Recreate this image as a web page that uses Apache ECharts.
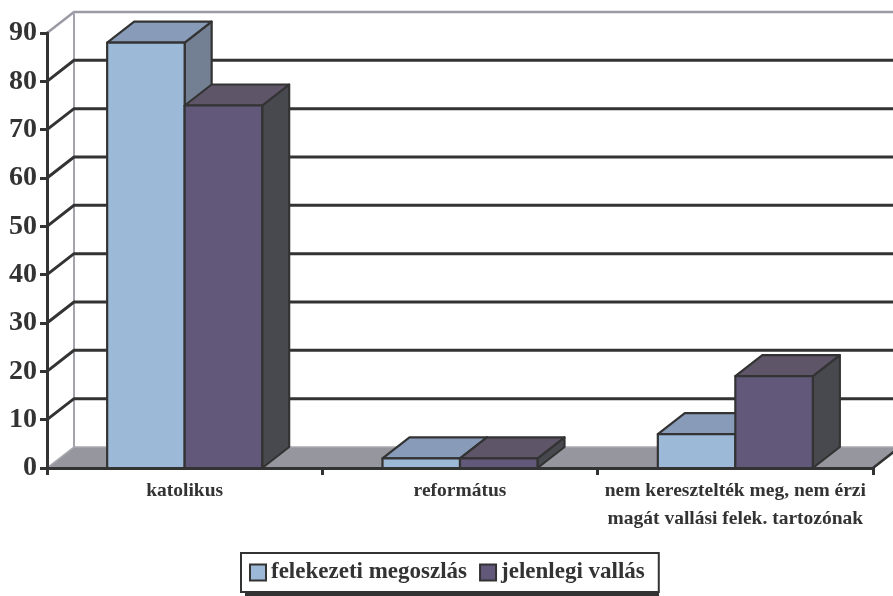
<!DOCTYPE html>
<html>
<head>
<meta charset="utf-8">
<script src="https://cdn.jsdelivr.net/npm/echarts@6/dist/echarts.min.js"></script>
<style>
  html, body { margin: 0; padding: 0; background: #ffffff; }
  #chart { width: 893px; height: 596px; }
</style>
</head>
<body>
<div id="chart"></div>
<script>
// Categories and values
const categories = [
  'katolikus',
  'református',
  'nem keresztelték meg, nem érzi\nmagát vallási felek. tartozónak'
];
const seriesNames = ['felekezeti megoszlás', 'jelenlegi vallás'];
const felekezetiMegoszlas = [88, 2, 7];
const jelenlegiVallas = [75, 2, 19];
const gridValues = [10, 20, 30, 40, 50, 60, 70, 80];
const yMin = 0, yMax = 90, yStep = 10;

// Drawing constants
const FONT = 'Liberation Serif';
const DEPTH_X = 27, DEPTH_Y = -21;      // oblique offset of the back plane
const BAR_RATIO = 0.2815;                // bar width as share of a category band
const OUTLINE = '#333333';
const blueFaces = { front: '#9db9d8', top: '#889cba', side: '#738094' };
const purpleFaces = { front: '#62597a', top: '#5e5569', side: '#48494f' };

// Grid lines on the left and back walls
function renderWallGrid(params, api) {
  const cs = params.coordSys;
  const y = api.coord([0, api.value(1)])[1];
  const x0 = cs.x;
  return {
    type: 'polyline',
    shape: { points: [[x0, y], [x0 + DEPTH_X, y + DEPTH_Y], [cs.x + cs.width + DEPTH_X + 10, y + DEPTH_Y]] },
    style: { stroke: OUTLINE, lineWidth: 3, fill: null }
  };
}

// Floor and the outer edge of the walls
function renderFrame(params, api) {
  const cs = params.coordSys;
  const yBase = api.coord([0, yMin])[1];
  const yTop = api.coord([0, yMax])[1];
  const xl = cs.x, xr = cs.x + cs.width;
  return {
    type: 'group',
    children: [
      {
        type: 'polygon',
        shape: { points: [[xl, yBase], [xr, yBase], [xr + DEPTH_X, yBase + DEPTH_Y], [xl + DEPTH_X, yBase + DEPTH_Y]] },
        style: { fill: '#96969e', stroke: '#a9a9b1', lineWidth: 1.5 }
      },
      {
        type: 'line',
        shape: { x1: xr, y1: yBase, x2: xr + DEPTH_X, y2: yBase + DEPTH_Y },
        style: { stroke: OUTLINE, lineWidth: 2.5 }
      },
      {
        type: 'polyline',
        shape: { points: [[xl, yTop], [xl + DEPTH_X, yTop + DEPTH_Y], [xr + DEPTH_X + 10, yTop + DEPTH_Y]] },
        style: { stroke: '#9a9aa4', lineWidth: 2.5, fill: null }
      },
      {
        type: 'line',
        shape: { x1: xl + DEPTH_X, y1: yTop + DEPTH_Y, x2: xl + DEPTH_X, y2: yBase + DEPTH_Y },
        style: { stroke: '#a4a4ae', lineWidth: 2 }
      }
    ]
  };
}

// Oblique 3D column; side = -1 puts it left of the band centre, +1 right
function makeBarRenderer(faces, side) {
  return function (params, api) {
    const cat = api.value(0);
    const val = api.value(1);
    const base = api.coord([cat, 0]);
    const top = api.coord([cat, val]);
    const w = api.size([1, 0])[0] * BAR_RATIO;
    const x0 = side < 0 ? base[0] - w : base[0];
    const x1 = x0 + w;
    const yb = base[1], yt = top[1];
    const lw = 2.2;
    return {
      type: 'group',
      children: [
        {
          type: 'polygon',
          shape: { points: [[x1, yb], [x1 + DEPTH_X, yb + DEPTH_Y], [x1 + DEPTH_X, yt + DEPTH_Y], [x1, yt]] },
          style: { fill: faces.side, stroke: OUTLINE, lineWidth: lw, lineJoin: 'round' }
        },
        {
          type: 'polygon',
          shape: { points: [[x0, yt], [x1, yt], [x1 + DEPTH_X, yt + DEPTH_Y], [x0 + DEPTH_X, yt + DEPTH_Y]] },
          style: { fill: faces.top, stroke: OUTLINE, lineWidth: lw, lineJoin: 'round' }
        },
        {
          type: 'polygon',
          shape: { points: [[x0, yb], [x1, yb], [x1, yt], [x0, yt]] },
          style: { fill: faces.front, stroke: OUTLINE, lineWidth: lw, lineJoin: 'round' }
        }
      ]
    };
  };
}

const chart = echarts.init(document.getElementById('chart'), null, { renderer: 'canvas' });

chart.setOption({
  animation: false,
  backgroundColor: '#ffffff',
  grid: { left: 47, right: 20, top: 33, bottom: 128, containLabel: false },
  // drop shadow behind the legend box
  graphic: [{
    type: 'rect',
    z: 1,
    silent: true,
    shape: { x: 245, y: 557, width: 414, height: 39 },
    style: { fill: OUTLINE }
  }],
  legend: {
    data: seriesNames,
    left: 241,
    top: 553,
    orient: 'horizontal',
    padding: [8, 14, 8, 8],
    itemGap: 12,
    itemWidth: 16,
    itemHeight: 16,
    icon: 'rect',
    z: 10,
    backgroundColor: '#ffffff',
    borderColor: OUTLINE,
    borderWidth: 2,
    borderRadius: 0,
    itemStyle: { borderColor: OUTLINE, borderWidth: 2 },
    textStyle: { fontFamily: FONT, fontSize: 23, fontWeight: 'bold', color: '#333333' }
  },
  xAxis: {
    type: 'category',
    data: categories,
    z: 5,
    axisLine: { show: true, lineStyle: { color: OUTLINE, width: 3 } },
    axisTick: { show: true, length: 7, lineStyle: { color: OUTLINE, width: 3 } },
    axisLabel: {
      interval: 0,
      margin: 9,
      fontFamily: FONT,
      fontSize: 19.5,
      fontWeight: 'bold',
      lineHeight: 28,
      color: '#333333'
    },
    splitLine: { show: false }
  },
  yAxis: {
    type: 'value',
    min: yMin,
    max: yMax,
    interval: yStep,
    z: 5,
    axisLine: { show: true, lineStyle: { color: OUTLINE, width: 3 } },
    axisTick: { show: true, length: 7, lineStyle: { color: OUTLINE, width: 3 } },
    axisLabel: {
      margin: 10,
      fontFamily: FONT,
      fontSize: 28,
      fontWeight: 'bold',
      color: '#333333'
    },
    splitLine: { show: false }
  },
  series: [
    {
      name: 'frame',
      type: 'custom',
      z: 1,
      silent: true,
      renderItem: renderFrame,
      data: [[0, yMin]]
    },
    {
      name: 'wallGrid',
      type: 'custom',
      z: 1,
      silent: true,
      renderItem: renderWallGrid,
      data: gridValues.map(v => [0, v])
    },
    {
      name: seriesNames[0],
      type: 'custom',
      z: 3,
      itemStyle: { color: blueFaces.front },
      renderItem: makeBarRenderer(blueFaces, -1),
      data: felekezetiMegoszlas.map((v, i) => [i, v])
    },
    {
      name: seriesNames[1],
      type: 'custom',
      z: 4,
      itemStyle: { color: purpleFaces.front },
      renderItem: makeBarRenderer(purpleFaces, 1),
      data: jelenlegiVallas.map((v, i) => [i, v])
    }
  ]
});
</script>
</body>
</html>
